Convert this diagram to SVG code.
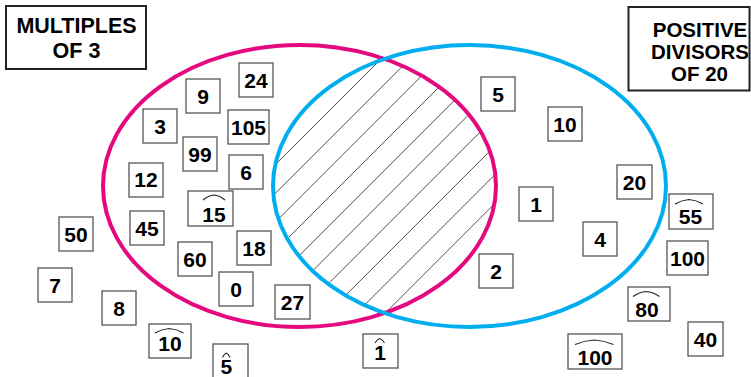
<svg xmlns="http://www.w3.org/2000/svg" width="751" height="377" viewBox="0 0 751 377">
<style>
.bg{fill:#fff}
.box{fill:#fff;stroke:#555;stroke-width:1.3}
.lbl{fill:#fff;stroke:#222;stroke-width:2}
.num{font-family:"Liberation Sans",Arial,sans-serif;font-weight:bold;font-size:21px;fill:#000;text-anchor:middle}
.ltxt{font-family:"Liberation Sans",Arial,sans-serif;font-weight:bold;fill:#000;text-anchor:middle}
.hat{fill:none;stroke:#222;stroke-width:1.1}
.hatch{stroke:#222;stroke-width:0.8}
.pink{fill:none;stroke:#e5097f;stroke-width:4}
.blue{fill:none;stroke:#00aeef;stroke-width:4}
</style>
<defs>
<clipPath id="cpPink"><ellipse cx="299.5" cy="186" rx="196.5" ry="141"/></clipPath>
<clipPath id="cpBlue"><ellipse cx="469.5" cy="186" rx="196.5" ry="141"/></clipPath>
</defs>
<rect class="bg" x="0" y="0" width="751" height="377"/>

<g id="intersection-hatch" clip-path="url(#cpBlue)">
<g clip-path="url(#cpPink)">
<line class="hatch" x1="400" y1="40" x2="100" y2="340"/>
<line class="hatch" x1="428.7" y1="40" x2="128.7" y2="340"/>
<line class="hatch" x1="457.4" y1="40" x2="157.4" y2="340"/>
<line class="hatch" x1="486.1" y1="40" x2="186.1" y2="340"/>
<line class="hatch" x1="514.8" y1="40" x2="214.8" y2="340"/>
<line class="hatch" x1="543.5" y1="40" x2="243.5" y2="340"/>
<line class="hatch" x1="572.2" y1="40" x2="272.2" y2="340"/>
<line class="hatch" x1="600.9" y1="40" x2="300.9" y2="340"/>
<line class="hatch" x1="629.6" y1="40" x2="329.6" y2="340"/>
<line class="hatch" x1="658.3" y1="40" x2="358.3" y2="340"/>
<line class="hatch" x1="687" y1="40" x2="387" y2="340"/>
</g>
</g>

<g id="set-multiples-of-3"><ellipse class="pink" cx="299.5" cy="186" rx="196.5" ry="141"/></g>
<g id="set-divisors-of-20"><ellipse class="blue" cx="469.5" cy="186" rx="196.5" ry="141"/></g>

<g id="label-multiples">
<rect class="lbl" x="6" y="6" width="140" height="63"/>
<text class="ltxt" x="76.5" y="32.5" font-size="21.5">MULTIPLES</text>
<text class="ltxt" x="76.5" y="58" font-size="21.5">OF 3</text>
</g>
<g id="label-divisors">
<rect class="lbl" x="628.5" y="7" width="121" height="83.5"/>
<text class="ltxt" x="700" y="37.3" font-size="20.5">POSITIVE</text>
<text class="ltxt" x="700" y="59" font-size="20.5">DIVISORS</text>
<text class="ltxt" x="699.5" y="80.7" font-size="20.5">OF 20</text>
</g>

<g id="n24"><rect class="box" x="239" y="63" width="34" height="34"/><text class="num" x="256" y="87.5">24</text></g>
<g id="n9"><rect class="box" x="186" y="79" width="34" height="34"/><text class="num" x="203" y="103.5">9</text></g>
<g id="n3"><rect class="box" x="143" y="109" width="34" height="34"/><text class="num" x="160" y="133.5">3</text></g>
<g id="n105"><rect class="box" x="228" y="110" width="41" height="34"/><text class="num" x="248.5" y="134.5">105</text></g>
<g id="n99"><rect class="box" x="183" y="137" width="34" height="34"/><text class="num" x="200" y="161.5">99</text></g>
<g id="n6"><rect class="box" x="229" y="155" width="34" height="34"/><text class="num" x="246" y="179.5">6</text></g>
<g id="n12"><rect class="box" x="129" y="163" width="34" height="34"/><text class="num" x="146" y="187">12</text></g>
<g id="n45"><rect class="box" x="130" y="211" width="34" height="34"/><text class="num" x="147" y="235.5">45</text></g>
<g id="n18"><rect class="box" x="237" y="231" width="34" height="34"/><text class="num" x="254" y="255.5">18</text></g>
<g id="n60"><rect class="box" x="178" y="242" width="34" height="34"/><text class="num" x="195" y="266.5">60</text></g>
<g id="n0"><rect class="box" x="219" y="272" width="34" height="34"/><text class="num" x="236" y="296.5">0</text></g>
<g id="n27"><rect class="box" x="275" y="285" width="35" height="34"/><text class="num" x="292.5" y="309.5">27</text></g>
<g id="n8"><rect class="box" x="102" y="291" width="34" height="34"/><text class="num" x="119" y="315.5">8</text></g>
<g id="n50"><rect class="box" x="59" y="217" width="34" height="34"/><text class="num" x="76" y="241.5">50</text></g>
<g id="n7"><rect class="box" x="38" y="268" width="34" height="34"/><text class="num" x="55" y="292.5">7</text></g>
<g id="n5"><rect class="box" x="481" y="77" width="34" height="34"/><text class="num" x="498" y="101.5">5</text></g>
<g id="n10"><rect class="box" x="548" y="107" width="34" height="34"/><text class="num" x="565" y="131.5">10</text></g>
<g id="n20"><rect class="box" x="617" y="165" width="35" height="34"/><text class="num" x="634.5" y="189.5">20</text></g>
<g id="n1"><rect class="box" x="519" y="187" width="34" height="34"/><text class="num" x="536" y="211.5">1</text></g>
<g id="n4"><rect class="box" x="583" y="222" width="34" height="34"/><text class="num" x="600" y="246.5">4</text></g>
<g id="n2"><rect class="box" x="479" y="254" width="34" height="34"/><text class="num" x="496" y="278.5">2</text></g>
<g id="n100"><rect class="box" x="667" y="241" width="41" height="34"/><text class="num" x="687.5" y="265.5">100</text></g>
<g id="n40"><rect class="box" x="688" y="322" width="35" height="34"/><text class="num" x="705.5" y="346.5">40</text></g>

<g id="n15hat"><rect class="box" x="188" y="191" width="45" height="35"/><path class="hat" d="M203 200 Q208.5 195.5 214 195 Q219.5 195.5 225 200"/><text class="num" x="214" y="222">15</text></g>
<g id="n55hat"><rect class="box" x="669" y="194" width="44" height="35"/><path class="hat" d="M675 204 Q682 200 689 199.5 Q696 200 703 204"/><text class="num" x="690.5" y="224">55</text></g>
<g id="n80hat"><rect class="box" x="628" y="287" width="42" height="34"/><path class="hat" d="M633 296.5 Q639.6 292 646.2 291.5 Q652.9 292 659.5 296.5"/><text class="num" x="647" y="316.5">80</text></g>
<g id="n10hat"><rect class="box" x="149" y="324" width="42" height="34"/><path class="hat" d="M155 333 Q162 329 169.2 328.5 Q176.4 329 183.5 333"/><text class="num" x="170" y="351">10</text></g>
<g id="n5hat"><rect class="box" x="213" y="344" width="35" height="34"/><path class="hat" d="M222.5 357.5 Q224.4 353.5 226.2 353 Q228.1 353.5 230 357.5"/><text class="num" x="226.3" y="373.5">5</text></g>
<g id="n1hat"><rect class="box" x="363" y="334" width="35" height="34"/><path class="hat" d="M375 343 Q377.4 339 379.7 338.5 Q382.1 339 384.5 343"/><text class="num" x="380" y="359.5">1</text></g>
<g id="n100hat"><rect class="box" x="568" y="334" width="54" height="35"/><path class="hat" d="M575 344.5 Q584.6 340.5 594.2 340 Q603.9 340.5 613.5 344.5"/><text class="num" x="595" y="365">100</text></g>
</svg>
